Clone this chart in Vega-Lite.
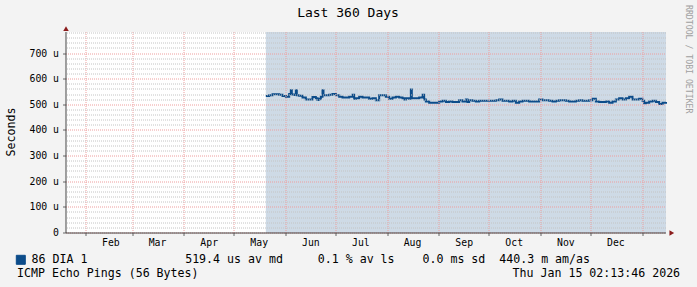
{
  "$schema": "https://vega.github.io/schema/vega-lite/v6.json",
  "width": 600,
  "height": 201,
  "autosize": {"type": "none"},
  "padding": {"left": 66, "top": 32, "right": 31, "bottom": 54},
  "background": "#F3F3F3",
  "view": {"fill": "#FFFFFF", "stroke": null},
  "config": {"font": "DejaVu Sans Mono"},
  "title": {"text": "Last 360 Days", "font": "DejaVu Sans Mono", "fontSize": 13, "fontWeight": "normal", "color": "#000000", "anchor": "middle", "frame": "group", "dx": -18, "dy": 19},
  "datasets": {
    "shade": [{"start": "2025-05-20T00:00:00Z", "end": "2026-01-15T02:13:46Z"}],
    "arrows": [
      {"t": "2025-01-20T02:13:46Z", "v": 797, "shape": "triangle-up"},
      {"t": "2026-01-18T14:00:00Z", "v": 0, "shape": "triangle-right"}
    ],
    "rtt": [
      {"t": "2025-05-20T00:00:00Z", "v": 534, "series": "86 DIA 1"},
      {"t": "2025-05-22T00:00:00Z", "v": 537, "series": "86 DIA 1"},
      {"t": "2025-05-24T00:00:00Z", "v": 541, "series": "86 DIA 1"},
      {"t": "2025-05-26T00:00:00Z", "v": 541, "series": "86 DIA 1"},
      {"t": "2025-05-28T00:00:00Z", "v": 539, "series": "86 DIA 1"},
      {"t": "2025-05-30T00:00:00Z", "v": 534, "series": "86 DIA 1"},
      {"t": "2025-06-01T00:00:00Z", "v": 531, "series": "86 DIA 1"},
      {"t": "2025-06-03T00:00:00Z", "v": 542, "series": "86 DIA 1"},
      {"t": "2025-06-04T00:00:00Z", "v": 557, "series": "86 DIA 1"},
      {"t": "2025-06-04T14:00:00Z", "v": 540, "series": "86 DIA 1"},
      {"t": "2025-06-06T00:00:00Z", "v": 538, "series": "86 DIA 1"},
      {"t": "2025-06-07T00:00:00Z", "v": 557, "series": "86 DIA 1"},
      {"t": "2025-06-07T14:00:00Z", "v": 537, "series": "86 DIA 1"},
      {"t": "2025-06-09T00:00:00Z", "v": 535, "series": "86 DIA 1"},
      {"t": "2025-06-11T00:00:00Z", "v": 529, "series": "86 DIA 1"},
      {"t": "2025-06-13T00:00:00Z", "v": 521, "series": "86 DIA 1"},
      {"t": "2025-06-15T00:00:00Z", "v": 521, "series": "86 DIA 1"},
      {"t": "2025-06-17T00:00:00Z", "v": 530, "series": "86 DIA 1"},
      {"t": "2025-06-19T00:00:00Z", "v": 526, "series": "86 DIA 1"},
      {"t": "2025-06-20T00:00:00Z", "v": 519, "series": "86 DIA 1"},
      {"t": "2025-06-21T00:00:00Z", "v": 524, "series": "86 DIA 1"},
      {"t": "2025-06-22T00:00:00Z", "v": 531, "series": "86 DIA 1"},
      {"t": "2025-06-23T00:00:00Z", "v": 557, "series": "86 DIA 1"},
      {"t": "2025-06-23T14:00:00Z", "v": 537, "series": "86 DIA 1"},
      {"t": "2025-06-25T00:00:00Z", "v": 537, "series": "86 DIA 1"},
      {"t": "2025-06-27T00:00:00Z", "v": 539, "series": "86 DIA 1"},
      {"t": "2025-06-29T00:00:00Z", "v": 542, "series": "86 DIA 1"},
      {"t": "2025-07-01T00:00:00Z", "v": 537, "series": "86 DIA 1"},
      {"t": "2025-07-03T00:00:00Z", "v": 531, "series": "86 DIA 1"},
      {"t": "2025-07-05T00:00:00Z", "v": 529, "series": "86 DIA 1"},
      {"t": "2025-07-07T00:00:00Z", "v": 529, "series": "86 DIA 1"},
      {"t": "2025-07-09T00:00:00Z", "v": 531, "series": "86 DIA 1"},
      {"t": "2025-07-11T00:00:00Z", "v": 539, "series": "86 DIA 1"},
      {"t": "2025-07-12T00:00:00Z", "v": 524, "series": "86 DIA 1"},
      {"t": "2025-07-13T00:00:00Z", "v": 526, "series": "86 DIA 1"},
      {"t": "2025-07-15T00:00:00Z", "v": 531, "series": "86 DIA 1"},
      {"t": "2025-07-17T00:00:00Z", "v": 529, "series": "86 DIA 1"},
      {"t": "2025-07-19T00:00:00Z", "v": 529, "series": "86 DIA 1"},
      {"t": "2025-07-21T00:00:00Z", "v": 524, "series": "86 DIA 1"},
      {"t": "2025-07-23T00:00:00Z", "v": 526, "series": "86 DIA 1"},
      {"t": "2025-07-25T00:00:00Z", "v": 518, "series": "86 DIA 1"},
      {"t": "2025-07-27T00:00:00Z", "v": 537, "series": "86 DIA 1"},
      {"t": "2025-07-29T00:00:00Z", "v": 537, "series": "86 DIA 1"},
      {"t": "2025-07-31T00:00:00Z", "v": 531, "series": "86 DIA 1"},
      {"t": "2025-08-02T00:00:00Z", "v": 524, "series": "86 DIA 1"},
      {"t": "2025-08-04T00:00:00Z", "v": 529, "series": "86 DIA 1"},
      {"t": "2025-08-06T00:00:00Z", "v": 531, "series": "86 DIA 1"},
      {"t": "2025-08-08T00:00:00Z", "v": 529, "series": "86 DIA 1"},
      {"t": "2025-08-10T00:00:00Z", "v": 526, "series": "86 DIA 1"},
      {"t": "2025-08-11T00:00:00Z", "v": 521, "series": "86 DIA 1"},
      {"t": "2025-08-12T00:00:00Z", "v": 526, "series": "86 DIA 1"},
      {"t": "2025-08-14T00:00:00Z", "v": 524, "series": "86 DIA 1"},
      {"t": "2025-08-15T00:00:00Z", "v": 560, "series": "86 DIA 1"},
      {"t": "2025-08-15T14:00:00Z", "v": 526, "series": "86 DIA 1"},
      {"t": "2025-08-18T00:00:00Z", "v": 526, "series": "86 DIA 1"},
      {"t": "2025-08-20T00:00:00Z", "v": 529, "series": "86 DIA 1"},
      {"t": "2025-08-22T00:00:00Z", "v": 539, "series": "86 DIA 1"},
      {"t": "2025-08-23T00:00:00Z", "v": 521, "series": "86 DIA 1"},
      {"t": "2025-08-24T00:00:00Z", "v": 513, "series": "86 DIA 1"},
      {"t": "2025-08-26T00:00:00Z", "v": 508, "series": "86 DIA 1"},
      {"t": "2025-08-28T00:00:00Z", "v": 508, "series": "86 DIA 1"},
      {"t": "2025-08-30T00:00:00Z", "v": 508, "series": "86 DIA 1"},
      {"t": "2025-09-01T00:00:00Z", "v": 513, "series": "86 DIA 1"},
      {"t": "2025-09-03T00:00:00Z", "v": 516, "series": "86 DIA 1"},
      {"t": "2025-09-05T00:00:00Z", "v": 511, "series": "86 DIA 1"},
      {"t": "2025-09-07T00:00:00Z", "v": 513, "series": "86 DIA 1"},
      {"t": "2025-09-09T00:00:00Z", "v": 511, "series": "86 DIA 1"},
      {"t": "2025-09-11T00:00:00Z", "v": 511, "series": "86 DIA 1"},
      {"t": "2025-09-13T00:00:00Z", "v": 518, "series": "86 DIA 1"},
      {"t": "2025-09-15T00:00:00Z", "v": 513, "series": "86 DIA 1"},
      {"t": "2025-09-17T00:00:00Z", "v": 521, "series": "86 DIA 1"},
      {"t": "2025-09-18T00:00:00Z", "v": 511, "series": "86 DIA 1"},
      {"t": "2025-09-19T00:00:00Z", "v": 518, "series": "86 DIA 1"},
      {"t": "2025-09-21T00:00:00Z", "v": 516, "series": "86 DIA 1"},
      {"t": "2025-09-23T00:00:00Z", "v": 513, "series": "86 DIA 1"},
      {"t": "2025-09-25T00:00:00Z", "v": 516, "series": "86 DIA 1"},
      {"t": "2025-09-27T00:00:00Z", "v": 516, "series": "86 DIA 1"},
      {"t": "2025-09-29T00:00:00Z", "v": 516, "series": "86 DIA 1"},
      {"t": "2025-10-01T00:00:00Z", "v": 516, "series": "86 DIA 1"},
      {"t": "2025-10-03T00:00:00Z", "v": 516, "series": "86 DIA 1"},
      {"t": "2025-10-05T00:00:00Z", "v": 518, "series": "86 DIA 1"},
      {"t": "2025-10-07T00:00:00Z", "v": 521, "series": "86 DIA 1"},
      {"t": "2025-10-09T00:00:00Z", "v": 516, "series": "86 DIA 1"},
      {"t": "2025-10-11T00:00:00Z", "v": 516, "series": "86 DIA 1"},
      {"t": "2025-10-13T00:00:00Z", "v": 513, "series": "86 DIA 1"},
      {"t": "2025-10-15T00:00:00Z", "v": 516, "series": "86 DIA 1"},
      {"t": "2025-10-17T00:00:00Z", "v": 508, "series": "86 DIA 1"},
      {"t": "2025-10-19T00:00:00Z", "v": 513, "series": "86 DIA 1"},
      {"t": "2025-10-21T00:00:00Z", "v": 516, "series": "86 DIA 1"},
      {"t": "2025-10-23T00:00:00Z", "v": 516, "series": "86 DIA 1"},
      {"t": "2025-10-25T00:00:00Z", "v": 513, "series": "86 DIA 1"},
      {"t": "2025-10-27T00:00:00Z", "v": 513, "series": "86 DIA 1"},
      {"t": "2025-10-29T00:00:00Z", "v": 513, "series": "86 DIA 1"},
      {"t": "2025-10-31T00:00:00Z", "v": 521, "series": "86 DIA 1"},
      {"t": "2025-11-02T00:00:00Z", "v": 518, "series": "86 DIA 1"},
      {"t": "2025-11-04T00:00:00Z", "v": 518, "series": "86 DIA 1"},
      {"t": "2025-11-06T00:00:00Z", "v": 516, "series": "86 DIA 1"},
      {"t": "2025-11-08T00:00:00Z", "v": 513, "series": "86 DIA 1"},
      {"t": "2025-11-10T00:00:00Z", "v": 516, "series": "86 DIA 1"},
      {"t": "2025-11-12T00:00:00Z", "v": 518, "series": "86 DIA 1"},
      {"t": "2025-11-14T00:00:00Z", "v": 518, "series": "86 DIA 1"},
      {"t": "2025-11-16T00:00:00Z", "v": 516, "series": "86 DIA 1"},
      {"t": "2025-11-18T00:00:00Z", "v": 513, "series": "86 DIA 1"},
      {"t": "2025-11-20T00:00:00Z", "v": 513, "series": "86 DIA 1"},
      {"t": "2025-11-22T00:00:00Z", "v": 516, "series": "86 DIA 1"},
      {"t": "2025-11-24T00:00:00Z", "v": 518, "series": "86 DIA 1"},
      {"t": "2025-11-26T00:00:00Z", "v": 516, "series": "86 DIA 1"},
      {"t": "2025-11-28T00:00:00Z", "v": 516, "series": "86 DIA 1"},
      {"t": "2025-11-30T00:00:00Z", "v": 518, "series": "86 DIA 1"},
      {"t": "2025-12-02T00:00:00Z", "v": 524, "series": "86 DIA 1"},
      {"t": "2025-12-04T00:00:00Z", "v": 513, "series": "86 DIA 1"},
      {"t": "2025-12-06T00:00:00Z", "v": 511, "series": "86 DIA 1"},
      {"t": "2025-12-08T00:00:00Z", "v": 511, "series": "86 DIA 1"},
      {"t": "2025-12-10T00:00:00Z", "v": 513, "series": "86 DIA 1"},
      {"t": "2025-12-12T00:00:00Z", "v": 508, "series": "86 DIA 1"},
      {"t": "2025-12-14T00:00:00Z", "v": 513, "series": "86 DIA 1"},
      {"t": "2025-12-16T00:00:00Z", "v": 521, "series": "86 DIA 1"},
      {"t": "2025-12-18T00:00:00Z", "v": 526, "series": "86 DIA 1"},
      {"t": "2025-12-20T00:00:00Z", "v": 521, "series": "86 DIA 1"},
      {"t": "2025-12-22T00:00:00Z", "v": 526, "series": "86 DIA 1"},
      {"t": "2025-12-24T00:00:00Z", "v": 531, "series": "86 DIA 1"},
      {"t": "2025-12-26T00:00:00Z", "v": 521, "series": "86 DIA 1"},
      {"t": "2025-12-28T00:00:00Z", "v": 521, "series": "86 DIA 1"},
      {"t": "2025-12-30T00:00:00Z", "v": 524, "series": "86 DIA 1"},
      {"t": "2026-01-01T00:00:00Z", "v": 516, "series": "86 DIA 1"},
      {"t": "2026-01-02T00:00:00Z", "v": 506, "series": "86 DIA 1"},
      {"t": "2026-01-03T00:00:00Z", "v": 508, "series": "86 DIA 1"},
      {"t": "2026-01-05T00:00:00Z", "v": 513, "series": "86 DIA 1"},
      {"t": "2026-01-07T00:00:00Z", "v": 516, "series": "86 DIA 1"},
      {"t": "2026-01-09T00:00:00Z", "v": 511, "series": "86 DIA 1"},
      {"t": "2026-01-11T00:00:00Z", "v": 503, "series": "86 DIA 1"},
      {"t": "2026-01-13T00:00:00Z", "v": 508, "series": "86 DIA 1"},
      {"t": "2026-01-15T02:13:46Z", "v": 511, "series": "86 DIA 1"}
    ]
  },
  "layer": [
    {
      "data": {"name": "shade"},
      "mark": {"type": "rect", "color": "#CEDAE6"},
      "encoding": {
        "x": {
          "field": "start", "type": "temporal",
          "scale": {"type": "utc", "domain": [{"year": 2025, "month": 1, "date": 20, "hours": 2, "minutes": 13, "seconds": 46, "utc": true}, {"year": 2026, "month": 1, "date": 15, "hours": 2, "minutes": 13, "seconds": 46, "utc": true}]},
          "axis": {
            "values": [
              {"year": 2025, "month": 2, "date": 1, "utc": true},
              {"year": 2025, "month": 3, "date": 1, "utc": true},
              {"year": 2025, "month": 4, "date": 1, "utc": true},
              {"year": 2025, "month": 5, "date": 1, "utc": true},
              {"year": 2025, "month": 6, "date": 1, "utc": true},
              {"year": 2025, "month": 7, "date": 1, "utc": true},
              {"year": 2025, "month": 8, "date": 1, "utc": true},
              {"year": 2025, "month": 9, "date": 1, "utc": true},
              {"year": 2025, "month": 10, "date": 1, "utc": true},
              {"year": 2025, "month": 11, "date": 1, "utc": true},
              {"year": 2025, "month": 12, "date": 1, "utc": true},
              {"year": 2026, "month": 1, "date": 1, "utc": true}
            ],
            "format": "%b",
            "labelExpr": "utcmonth(datum.value) == 0 ? '' : datum.label",
            "labelOffset": 25,
            "labelAngle": 0,
            "labelOverlap": false,
            "labelFlush": false,
            "labelFont": "DejaVu Sans Mono",
            "labelFontSize": 9.8,
            "labelColor": "#000000",
            "labelPadding": 2,
            "tickSize": 3,
            "tickColor": "#666666",
            "domainColor": "#444444",
            "translate": 0,
            "grid": true,
            "gridColor": "#EE9E9E",
            "gridDash": [1, 1],
            "zindex": 1,
            "title": "ICMP Echo Pings (56 Bytes)\u00a0\u00a0\u00a0\u00a0\u00a0\u00a0\u00a0\u00a0\u00a0\u00a0\u00a0\u00a0\u00a0\u00a0\u00a0\u00a0\u00a0\u00a0\u00a0\u00a0\u00a0\u00a0\u00a0\u00a0\u00a0\u00a0\u00a0\u00a0\u00a0\u00a0\u00a0\u00a0\u00a0\u00a0\u00a0\u00a0\u00a0\u00a0\u00a0\u00a0\u00a0\u00a0\u00a0\u00a0\u00a0Thu Jan 15 02:13:46 2026",
            "titleFont": "DejaVu Sans Mono",
            "titleFontSize": 11.6,
            "titleFontWeight": "normal",
            "titleColor": "#000000",
            "titleAnchor": "start",
            "titleAlign": "left",
            "titleBaseline": "alphabetic",
            "titleX": -49,
            "titleY": 44
          }
        },
        "x2": {"field": "end"}
      }
    },
    {
      "data": {"name": "rtt"},
      "mark": {"type": "line", "interpolate": "step-after", "strokeWidth": 2},
      "encoding": {
        "x": {"field": "t", "type": "temporal"},
        "y": {
          "field": "v", "type": "quantitative",
          "scale": {"domain": [0, 784], "nice": false, "zero": false},
          "axis": {
            "values": [0, 100, 200, 300, 400, 500, 600, 700],
            "labelExpr": "datum.value == 0 ? '0' : datum.value + ' u'",
            "labelFont": "DejaVu Sans Mono",
            "labelFontSize": 9.8,
            "labelColor": "#000000",
            "labelPadding": 4,
            "tickSize": 3,
            "tickColor": "#666666",
            "domainColor": "#444444",
            "translate": 0,
            "grid": true,
            "gridColor": "#EE9E9E",
            "gridDash": [1, 1],
            "zindex": 1,
            "title": "Seconds",
            "titleFont": "DejaVu Sans Mono",
            "titleFontSize": 11.6,
            "titleFontWeight": "normal",
            "titleColor": "#000000",
            "titleX": -51,
            "titleY": 100,
            "titleBaseline": "alphabetic"
          }
        },
        "color": {
          "field": "series", "type": "nominal",
          "scale": {"range": ["#0C4C8A"]},
          "legend": {
            "title": null,
            "orient": "none",
            "legendX": -51,
            "legendY": 222,
            "padding": 0,
            "symbolType": "square",
            "symbolSize": 81,
            "symbolFillColor": "#0C4C8A",
            "symbolStrokeColor": "#000000",
            "symbolStrokeWidth": 1,
            "labelFont": "DejaVu Sans Mono",
            "labelFontSize": 11.6,
            "labelColor": "#000000",
            "labelOffset": 5,
            "labelLimit": 0,
            "labelExpr": "datum.label + '\u00a0\u00a0\u00a0\u00a0\u00a0\u00a0\u00a0\u00a0\u00a0\u00a0\u00a0\u00a0\u00a0\u00a0519.4 us av md\u00a0\u00a0\u00a0\u00a0\u00a00.1 % av ls\u00a0\u00a0\u00a0\u00a00.0 ms sd\u00a0\u00a0440.3 m am/as'"
          }
        }
      }
    },
    {
      "data": {"name": "arrows"},
      "mark": {"type": "point", "filled": true, "color": "#8B1C1C", "size": 30, "opacity": 1},
      "encoding": {
        "x": {"field": "t", "type": "temporal"},
        "y": {
          "field": "v", "type": "quantitative",
          "scale": {"domain": [0, 784], "nice": false, "zero": false},
          "axis": {
            "orient": "right",
            "values": [20, 40, 60, 80, 120, 140, 160, 180, 220, 240, 260, 280, 320, 340, 360, 380, 420, 440, 460, 480, 520, 540, 560, 580, 620, 640, 660, 680, 720, 740, 760, 780],
            "translate": 0,
            "grid": true,
            "gridColor": "#C4C4C4",
            "gridDash": [1, 1],
            "labels": false,
            "ticks": false,
            "domain": false,
            "zindex": 1,
            "title": "RRDTOOL / TOBI OETIKER",
            "titleAngle": 90,
            "titleFont": "DejaVu Sans Mono",
            "titleFontSize": 8.2,
            "titleFontWeight": "normal",
            "titleColor": "#A0A0A0",
            "titleAlign": "left",
            "titleBaseline": "middle",
            "titleX": 22,
            "titleY": -27
          }
        },
        "shape": {"field": "shape", "type": "nominal", "scale": null}
      }
    }
  ],
  "resolve": {"scale": {"y": "independent"}, "axis": {"y": "independent"}}
}
